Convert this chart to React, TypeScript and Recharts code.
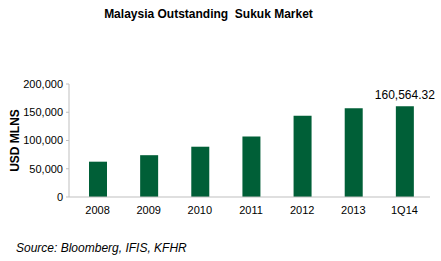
import { Bar, BarChart, LabelList, XAxis, YAxis, Label } from 'recharts';

const categories = ['2008', '2009', '2010', '2011', '2012', '2013', '1Q14'];
const outstanding = [62500, 74000, 89000, 107000, 144000, 157000, 160564.32];
const barLabels = ['', '', '', '', '', '', '160,564.32'];
const yTicks = [0, 50000, 100000, 150000, 200000];

const data = categories.map((year, i) => ({ year, value: outstanding[i], label: barLabels[i] }));

const font = '"Liberation Sans", Arial, sans-serif';

export default function App() {
  return (
    <div style={{ position: 'absolute', left: 0, top: 0, width: 441, height: 261, background: '#fff', fontFamily: font }}>
      <div
        style={{
          position: 'absolute',
          top: 7,
          left: 0,
          width: 417,
          textAlign: 'center',
          fontSize: 12,
          fontWeight: 'bold',
          color: '#000',
          whiteSpace: 'pre',
        }}
      >
        {'Malaysia Outstanding  Sukuk Market'}
      </div>
      <BarChart width={441} height={261} data={data} margin={{ top: 84, right: 11, bottom: 44, left: 0 }}>
        <XAxis
          dataKey="year"
          height={20}
          padding={{ left: 3, right: 0 }}
          tickLine={false}
          tickSize={0}
          tickMargin={9}
          axisLine={{ stroke: '#BFBFBF' }}
          tick={{ fontSize: 11, fill: '#000', fontFamily: font }}
          interval={0}
        />
        <YAxis
          width={69}
          domain={[0, 200000]}
          ticks={yTicks}
          tickSize={3}
          tickMargin={3}
          axisLine={{ stroke: '#BFBFBF' }}
          tickLine={{ stroke: '#BFBFBF' }}
          tick={{ fontSize: 11, fill: '#000', fontFamily: font }}
          tickFormatter={(v: number) => v.toLocaleString('en-US')}
        >
          <Label
            value="USD MLNS"
            angle={-90}
            position="insideLeft"
            offset={15}
            style={{ fontSize: 12, fontWeight: 'bold', fill: '#000', fontFamily: font, textAnchor: 'middle' }}
          />
        </YAxis>
        <Bar dataKey="value" fill="#005F37" barSize={18} isAnimationActive={false}>
          <LabelList dataKey="label" position="top" offset={7} style={{ fontSize: 12, fill: '#000', fontFamily: font }} />
        </Bar>
      </BarChart>
      <div
        style={{
          position: 'absolute',
          top: 241,
          left: 16,
          fontSize: 12,
          fontStyle: 'italic',
          color: '#000',
        }}
      >
        Source: Bloomberg, IFIS, KFHR
      </div>
    </div>
  );
}
